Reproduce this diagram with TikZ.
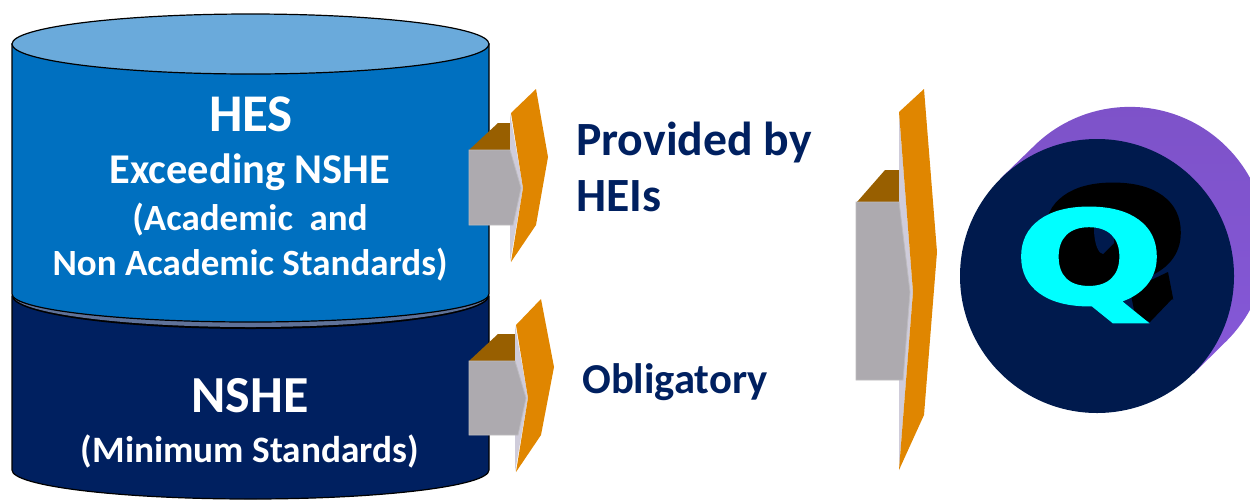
\documentclass[tikz,border=0pt]{standalone}
\usepackage{fontspec}
\setmainfont{Carlito}
\newfontfamily\qfont[FakeBold=2.5,FakeStretch=1.38]{DejaVu Sans Bold}
\definecolor{navy}{HTML}{002060}
\definecolor{hesblue}{HTML}{0070C0}
\definecolor{captop}{HTML}{6AAADB}
\definecolor{orangeplate}{HTML}{E08600}
\definecolor{boxgrey}{HTML}{ADAAAF}
\definecolor{boxtop}{HTML}{985F00}
\definecolor{plategrey}{HTML}{CFCCDA}
\definecolor{disc}{HTML}{001A4D}
\definecolor{band}{HTML}{5F7299}
\definecolor{qcyan}{RGB}{0,255,255}
\definecolor{purpA}{RGB}{125,82,200}
\definecolor{purpB}{RGB}{94,61,150}
\definecolor{purpC}{RGB}{133,88,216}
\tikzset{
  wtext/.style={text=white,font=\bfseries,inner sep=0pt,anchor=center},
  ntext/.style={text=navy,font=\bfseries,inner sep=0pt,anchor=west},
  greybox/.style={fill=boxgrey,draw=boxgrey!80!white,line width=.8pt},
  browntop/.style={fill=boxtop},
  lightplate/.style={fill=plategrey},
  orangep/.style={fill=orangeplate},
  qglyph/.style={inner sep=0pt,anchor=center,font=\qfont\fontsize{128}{128}\selectfont}
}
\begin{document}
\begin{tikzpicture}[x=1pt,y=-1pt]
\useasboundingbox (0,0) rectangle (1250,499);
\clip (0,0) rectangle (1250,499);
% lower cylinder
\path[fill=navy,draw=black,line width=1.2pt] (12,296) -- (12,470) arc[start angle=180,end angle=0,x radius=238.5,y radius=29] -- (489,296) -- cycle;
% separator band
\path[fill=black] (12,296) arc[start angle=180,end angle=0,x radius=238.5,y radius=33] -- cycle;
\path[fill=band] (13,295) arc[start angle=180,end angle=0,x radius=237.5,y radius=32] -- cycle;
% upper cylinder
\path[fill=hesblue,draw=black,line width=1.2pt] (12,44) -- (12,294) arc[start angle=180,end angle=0,x radius=238.5,y radius=28] -- (489,44) -- cycle;
\path[fill=captop,draw=black,line width=1.2pt] (250.5,44) ellipse[x radius=238.5,y radius=30];
\node[wtext,font=\bfseries\fontsize{53}{53}\selectfont] (hes) at (251,114) {HES};
\node[wtext,font=\bfseries\fontsize{42.4}{42}\selectfont] (exc) at (250,172) {Exceeding NSHE};
\node[wtext,font=\bfseries\fontsize{37}{37}\selectfont] (aca) at (250,220) {(Academic\ \ and};
\node[wtext,font=\bfseries\fontsize{37}{37}\selectfont] (non) at (250,265) {Non Academic Standards)};
\node[wtext,font=\bfseries\fontsize{52}{52}\selectfont] (nshe) at (250,396) {NSHE};
\node[wtext,font=\bfseries\fontsize{37.3}{37}\selectfont] (min) at (250,451) {(Minimum Standards)};
\node[ntext,font=\bfseries\fontsize{47.7}{47}\selectfont] (prov) at (576,143) {Provided by};
\node[ntext,font=\bfseries\fontsize{47.7}{47}\selectfont] (heis) at (576,196) {HEIs};
\node[ntext,font=\bfseries\fontsize{42.6}{42}\selectfont] (obl) at (582,382) {Obligatory};
% upper arrow
\path[browntop] (469,150) -- (498,123) -- (511,123) -- (511,150) -- cycle;
\path[lightplate] (510,113) -- (523,188) -- (510,262) -- cycle;
\path[greybox] (469,150) -- (510,150) -- (521,188) -- (513,225) -- (469,225) -- cycle;
\path[orangep] (511,113) -- (536,89) -- (548,157) -- (536,225) -- (511,262) -- (523,188) -- cycle;
% lower arrow
\path[browntop] (469,361) -- (498,334) -- (515,334) -- (515,361) -- cycle;
\path[lightplate] (515,325) -- (528,398) -- (515,472) -- cycle;
\path[greybox] (469,361) -- (515,361) -- (526,398) -- (518,435) -- (469,435) -- cycle;
\path[orangep] (516,325) -- (541,299) -- (554,367) -- (541,435) -- (516,472) -- (528,398) -- cycle;
% big arrow
\path[browntop] (857,202) -- (885,170) -- (900,170) -- (900,202) -- cycle;
\path[lightplate] (899,112) -- (913,292) -- (899,470) -- cycle;
\path[greybox] (856,202) -- (899,202) -- (910,292) -- (903,380) -- (856,380) -- cycle;
\path[orangep] (899,112) -- (924,89) -- (937,252) -- (924,415) -- (899,470) -- (913,292) -- cycle;
% disc with purple extrusion
\path[left color=purpA,middle color=purpB,right color=purpC,shading angle=0]
  (1000,179) -- (1033,147) arc[start angle=225,end angle=405,x radius=137,y radius=137] -- (1194,373) -- cycle;
\path[fill=disc] (1097,276) circle[radius=137];
% black extrusion behind the Q
\node[qglyph,text=black] (qs) at (1113,241) {Q};
\foreach \i in {0,2,...,24}{
  \path[fill=black] ({1089+\i},{260-\i}) ellipse[x radius=62,y radius=45];
}
\path[fill=black] (1130,290) -- (1168,272) -- (1173,298) -- (1150,322) -- (1135,315) -- cycle;
\path[fill=disc] (1094,228) .. controls (1094,245) and (1099,254) .. (1103,254) -- (1114,243) -- (1114,228) -- cycle;
\node[qglyph,text=qcyan] (q) at (1089,265) {Q};
\end{tikzpicture}
\end{document}
